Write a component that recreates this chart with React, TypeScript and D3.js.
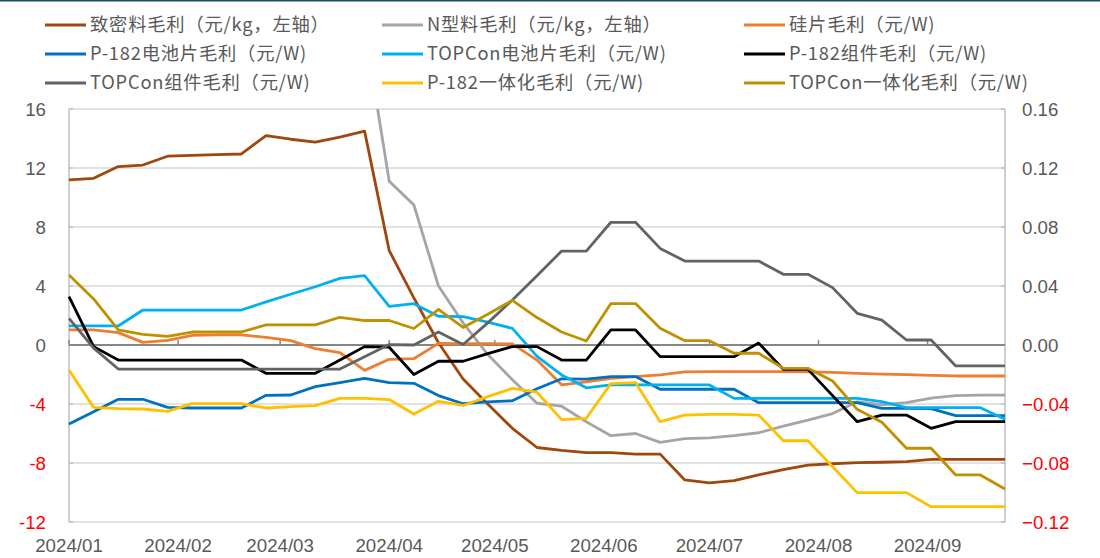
import React from "react";
import * as d3 from "d3";

const dates = [
  "2024-01-01","2024-01-08","2024-01-15","2024-01-22","2024-01-29",
  "2024-02-05","2024-02-12","2024-02-19","2024-02-26",
  "2024-03-04","2024-03-11","2024-03-18","2024-03-25",
  "2024-04-01","2024-04-08","2024-04-15","2024-04-22","2024-04-29",
  "2024-05-06","2024-05-13","2024-05-20","2024-05-27",
  "2024-06-03","2024-06-10","2024-06-17","2024-06-24",
  "2024-07-01","2024-07-08","2024-07-15","2024-07-22","2024-07-29",
  "2024-08-05","2024-08-12","2024-08-19","2024-08-26",
  "2024-09-02","2024-09-09","2024-09-16","2024-09-23",
];

// left axis (元/kg)
const denseSi = [11.2,11.3,12.1,12.2,12.8,12.85,12.9,12.95,14.2,13.95,13.75,14.1,14.5,6.4,3.2,0.15,-2.3,-4.0,-5.65,-6.95,-7.15,-7.3,-7.3,-7.4,-7.4,-9.15,-9.35,-9.2,-8.8,-8.45,-8.15,-8.05,-7.98,-7.95,-7.9,-7.75,-7.75,-7.75,-7.75];
const nType = [null,null,null,null,null,null,null,null,null,null,null,null,21.5,11.1,9.5,4.0,1.5,-0.65,-2.35,-3.95,-4.15,-5.2,-6.15,-6.0,-6.6,-6.35,-6.3,-6.15,-5.95,-5.5,-5.1,-4.65,-3.85,-4.05,-3.9,-3.6,-3.43,-3.4,-3.4];

// right axis (元/W)
const wafer = [0.0102,0.0102,0.0084,0.0018,0.0032,0.0066,0.0068,0.0068,0.0052,0.003,-0.0025,-0.0052,-0.0172,-0.0097,-0.0093,0.0011,0.001,0.001,0.0008,-0.0102,-0.027,-0.025,-0.0226,-0.0215,-0.0203,-0.0182,-0.0181,-0.0181,-0.0181,-0.0181,-0.0182,-0.0185,-0.0192,-0.0197,-0.0201,-0.0206,-0.021,-0.021,-0.021];
const p182Cell = [-0.0536,-0.0452,-0.0368,-0.0368,-0.0423,-0.0427,-0.0427,-0.0427,-0.0341,-0.0339,-0.0282,-0.0255,-0.0227,-0.0255,-0.026,-0.0343,-0.0398,-0.0385,-0.0378,-0.0297,-0.0229,-0.0231,-0.0214,-0.0214,-0.03,-0.03,-0.03,-0.03,-0.0391,-0.0391,-0.0391,-0.0391,-0.0391,-0.0429,-0.0429,-0.0432,-0.0479,-0.0479,-0.0479];
const topconCell = [0.0129,0.0129,0.0129,0.0237,0.0237,0.0237,0.0237,0.0237,0.0292,0.0344,0.0395,0.0452,0.047,0.0262,0.028,0.0195,0.0192,0.0155,0.0113,-0.0077,-0.0203,-0.029,-0.0271,-0.0271,-0.0271,-0.0271,-0.0271,-0.0362,-0.0362,-0.0362,-0.0362,-0.0362,-0.0362,-0.0384,-0.0425,-0.0425,-0.0425,-0.0425,-0.0504];
const p182Module = [0.0328,-0.0011,-0.0102,-0.0102,-0.0102,-0.0102,-0.0102,-0.0102,-0.0192,-0.0192,-0.0192,-0.0102,-0.0011,-0.0015,-0.02,-0.011,-0.011,-0.0058,-0.0011,-0.0011,-0.0102,-0.0102,0.0102,0.0102,-0.0079,-0.0079,-0.0079,-0.0079,0.0013,-0.0165,-0.0165,-0.0343,-0.052,-0.0475,-0.0475,-0.0565,-0.052,-0.052,-0.052];
const topconModule = [0.0181,-0.0021,-0.0163,-0.0163,-0.0163,-0.0163,-0.0163,-0.0163,-0.0163,-0.0163,-0.0163,-0.0163,-0.008,0.0003,0.0,0.0088,0.0003,0.015,0.0305,0.047,0.0637,0.0637,0.0832,0.0832,0.0655,0.0569,0.0569,0.0569,0.0569,0.0479,0.0479,0.0389,0.0215,0.0169,0.0034,0.0034,-0.0142,-0.0142,-0.0142];
const p182Integ = [-0.0169,-0.0423,-0.0432,-0.0434,-0.045,-0.0398,-0.0398,-0.0398,-0.0427,-0.0418,-0.0411,-0.0362,-0.0362,-0.037,-0.0468,-0.0382,-0.041,-0.035,-0.0294,-0.032,-0.0506,-0.0497,-0.0262,-0.0255,-0.052,-0.0475,-0.047,-0.047,-0.0475,-0.0649,-0.0649,-0.0825,-0.1001,-0.1001,-0.1001,-0.1096,-0.1096,-0.1096,-0.1096];
const topconInteg = [0.0475,0.0312,0.0102,0.0072,0.0059,0.0088,0.0088,0.0088,0.0136,0.0136,0.0136,0.0188,0.0166,0.0166,0.0112,0.0242,0.0119,0.0209,0.0303,0.0186,0.0088,0.0027,0.0281,0.0281,0.0113,0.0029,0.0029,-0.0056,-0.0056,-0.0158,-0.0158,-0.0244,-0.0436,-0.0524,-0.07,-0.07,-0.0881,-0.0881,-0.0976];

const leftTicks = [16, 12, 8, 4, 0, -4, -8, -12];
const rightTicks = [0.16, 0.12, 0.08, 0.04, 0, -0.04, -0.08, -0.12];
const monthTicks = ["2024-01-01","2024-02-01","2024-03-01","2024-04-01","2024-05-01","2024-06-01","2024-07-01","2024-08-01","2024-09-01"];

const seriesNames = [
  "致密料毛利（元/kg，左轴）",
  "N型料毛利（元/kg，左轴）",
  "硅片毛利（元/W)",
  "P-182电池片毛利（元/W)",
  "TOPCon电池片毛利（元/W)",
  "P-182组件毛利（元/W)",
  "TOPCon组件毛利（元/W)",
  "P-182一体化毛利（元/W)",
  "TOPCon一体化毛利（元/W)",
];
const seriesColors = ["#9E480E","#A5A5A5","#ED7D31","#0070C0","#00B0F0","#000000","#636363","#FFC000","#BF9000"];
const seriesAxis = ["left","left","right","right","right","right","right","right","right"];
const seriesData = [denseSi, nType, wafer, p182Cell, topconCell, p182Module, topconModule, p182Integ, topconInteg];

const W = 1100, H = 558;
const L = 69, R = 1005, T = 109, B = 522;
const axisFont = "'Liberation Sans', Arial, 'Noto Sans CJK SC', sans-serif";
const legendFont = "'Noto Sans CJK SC', 'Liberation Sans', sans-serif";

export default function App() {
  const parse = d3.utcParse("%Y-%m-%d");
  const xDates = dates.map((d) => parse(d)!);
  const x = d3.scaleUtc().domain([xDates[0], xDates[xDates.length - 1]]).range([L, R]);
  const yL = d3.scaleLinear().domain([-12, 16]).range([B, T]);
  const yR = d3.scaleLinear().domain([-0.12, 0.16]).range([B, T]);
  const fmtR = d3.format(".2f");
  const fmtM = d3.utcFormat("%Y/%m");

  const paths = seriesData.map((vals, i) => {
    const ys = seriesAxis[i] === "left" ? yL : yR;
    const line = d3
      .line<number | null>()
      .defined((v) => v !== null)
      .x((_, j) => x(xDates[j]))
      .y((v) => ys(v as number));
    return line(vals as (number | null)[]) || "";
  });

  const legendCols = [45, 382, 744];
  const legendRows = [25, 54, 83];

  return (
    <svg width={W} height={H} style={{ position: "absolute", left: 0, top: 0, display: "block", background: "#fff" }}>
      <rect x={0} y={0} width={W} height={1.5} fill="#1f4e6b" />
      <defs>
        <clipPath id="plot">
          <rect x={L - 2} y={T} width={R - L + 4} height={B - T} />
        </clipPath>
      </defs>
      {leftTicks.map((t) =>
        t === 0 ? null : (
          <line key={"g" + t} x1={L} x2={R} y1={yL(t)} y2={yL(t)} stroke="#D9D9D9" strokeWidth={1.5} />
        )
      )}
      <line x1={L} x2={L} y1={T} y2={B} stroke="#BFBFBF" strokeWidth={1.5} />
      <line x1={R} x2={R} y1={T} y2={B} stroke="#BFBFBF" strokeWidth={1.5} />
      {leftTicks.map((t) => (
        <line key={"lt" + t} x1={L} x2={L + 4} y1={yL(t)} y2={yL(t)} stroke="#BFBFBF" strokeWidth={1.5} />
      ))}
      {rightTicks.map((t) => (
        <line key={"rt" + t} x1={R - 4} x2={R} y1={yR(t)} y2={yR(t)} stroke="#BFBFBF" strokeWidth={1.5} />
      ))}
      <line x1={L} x2={R} y1={yL(0)} y2={yL(0)} stroke="#868686" strokeWidth={2} />
      {monthTicks.map((m) => {
        const d = parse(m)!;
        return <line key={"mt" + m} x1={x(d)} x2={x(d)} y1={yL(0)} y2={yL(0) - 5} stroke="#868686" strokeWidth={1.5} />;
      })}
      <g clipPath="url(#plot)">
        {paths.map((p, i) => (
          <path key={"s" + i} d={p} fill="none" stroke={seriesColors[i]} strokeWidth={2.8} strokeLinejoin="round" />
        ))}
      </g>
      {leftTicks.map((t) => (
        <text key={"ll" + t} x={46} y={yL(t)} dy="0.35em" textAnchor="end" fontFamily={axisFont} fontSize={18.7} fill={t < 0 ? "#FF0000" : "#595959"}>
          {t}
        </text>
      ))}
      {rightTicks.map((t) => (
        <text key={"rl" + t} x={1022} y={yR(t)} dy="0.35em" textAnchor="start" fontFamily={axisFont} fontSize={18.7} fill={t < 0 ? "#FF0000" : "#595959"}>
          {fmtR(t)}
        </text>
      ))}
      {monthTicks.map((m) => {
        const d = parse(m)!;
        return (
          <text key={"ml" + m} x={x(d)} y={552} textAnchor="middle" fontFamily={axisFont} fontSize={18.7} fill="#595959">
            {fmtM(d)}
          </text>
        );
      })}
      {seriesNames.map((name, i) => {
        const cx = legendCols[i % 3];
        const cy = legendRows[Math.floor(i / 3)];
        return (
          <g key={"lg" + i}>
            <line x1={cx} x2={cx + 41} y1={cy} y2={cy} stroke={seriesColors[i]} strokeWidth={3} />
            <text x={cx + 45} y={cy} dy="0.35em" fontFamily={legendFont} fontSize={18.3} letterSpacing={0.8} fill="#595959">
              {name}
            </text>
          </g>
        );
      })}
    </svg>
  );
}
